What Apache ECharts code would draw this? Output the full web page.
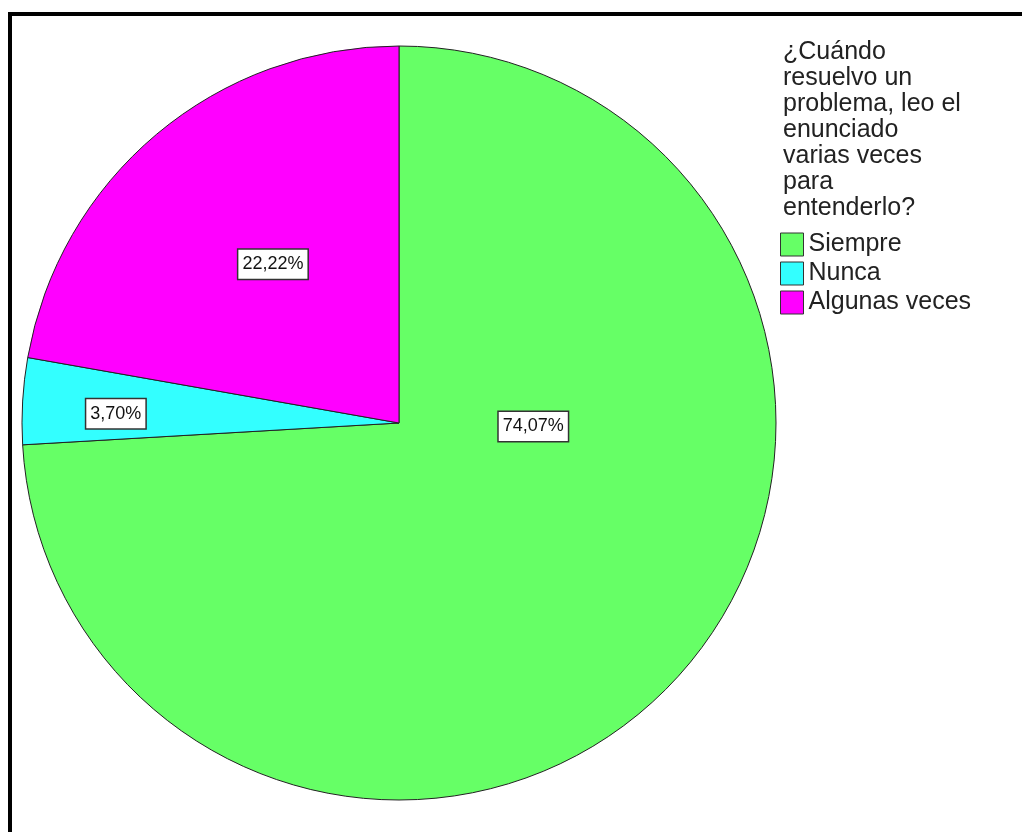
<!DOCTYPE html>
<html>
<head>
<meta charset="utf-8">
<style>
  html, body { margin: 0; padding: 0; background: #fff; }
  #chart { width: 1022px; height: 832px; }
</style>
<script src="https://cdn.jsdelivr.net/npm/echarts@6/dist/echarts.min.js"></script>
</head>
<body>
<div id="chart"></div>
<script>
// categories and values (percent)
var categories = ['Siempre', 'Nunca', 'Algunas veces'];
var values = [74.07, 3.70, 22.22];
var colors = ['#66FF66', '#33FFFF', '#FF00FF'];
// label nudges away from the default "inside" spot
var labelOffsets = [[-5, -128], [-92, 2], [-3, -12]];
var legendTitle = '¿Cuándo\nresuelvo un\nproblema, leo el\nenunciado\nvarias veces\npara\nentenderlo?';

var font = 'Arial, "Liberation Sans", sans-serif';

var chart = echarts.init(document.getElementById('chart'));

var pieData = categories.map(function (name, i) {
  return {
    name: name,
    value: values[i],
    itemStyle: { color: colors[i] },
    label: { offset: labelOffsets[i] }
  };
});

var option = {
  animation: false,
  backgroundColor: '#fff',
  title: {
    text: legendTitle,
    left: 778,
    top: 34,
    textStyle: {
      fontFamily: font,
      fontSize: 25,
      fontWeight: 'normal',
      color: '#222',
      lineHeight: 26
    }
  },
  legend: {
    orient: 'vertical',
    left: 780,
    top: 232,
    padding: 0,
    icon: 'rect',
    itemWidth: 23,
    itemHeight: 23,
    itemGap: 4,
    data: categories,
    itemStyle: { borderColor: '#333', borderWidth: 1 },
    textStyle: {
      fontFamily: font,
      fontSize: 25,
      color: '#222',
      padding: 0
    }
  },
  graphic: [{
    type: 'rect',
    shape: { x: 10, y: 14, width: 1100, height: 900 },
    style: { fill: 'none', stroke: '#000', lineWidth: 4 },
    silent: true
  }],
  series: [{
    type: 'pie',
    center: [399, 423],
    radius: 377,
    startAngle: 90,
    clockwise: true,
    label: {
      show: true,
      position: 'inside',
      formatter: function (p) {
        return p.value.toFixed(2).replace('.', ',') + '%';
      },
      fontFamily: font,
      fontSize: 18,
      lineHeight: 20,
      color: '#111',
      backgroundColor: '#fff',
      borderColor: '#333',
      borderWidth: 1.5,
      padding: [5, 4, 4, 4]
    },
    labelLine: { show: false },
    itemStyle: { borderColor: '#222', borderWidth: 1 },
    emphasis: { disabled: true },
    data: pieData
  }]
};

chart.setOption(option);
</script>
</body>
</html>
